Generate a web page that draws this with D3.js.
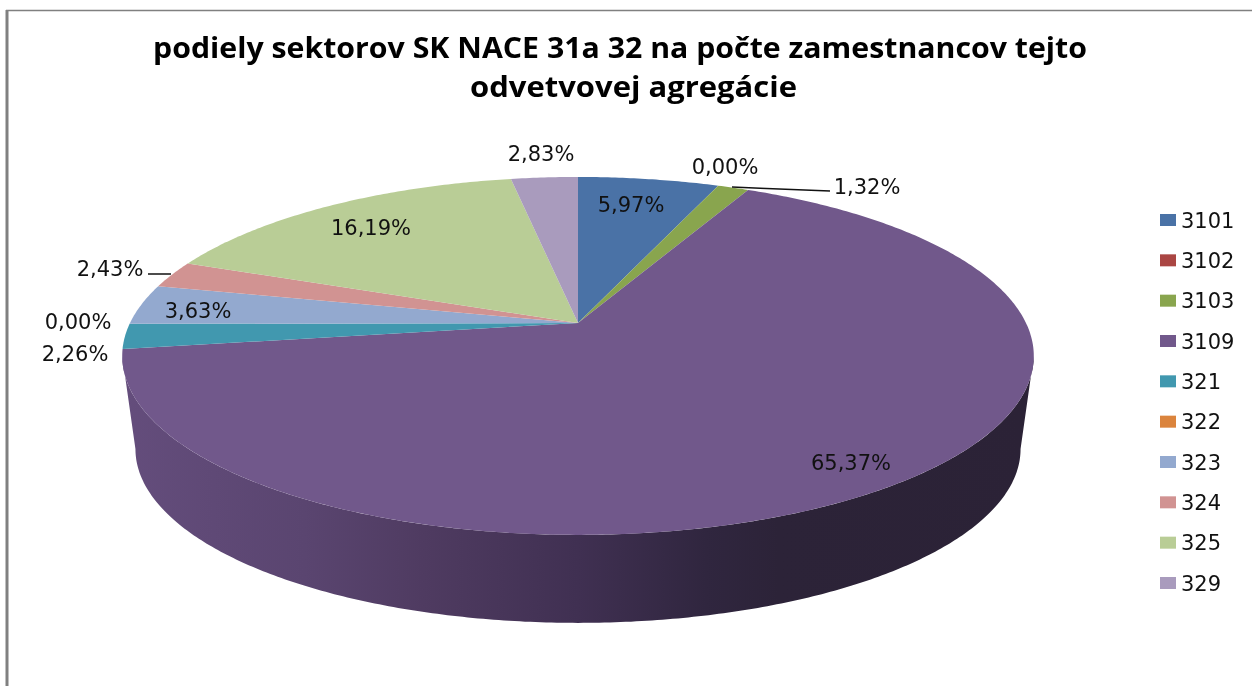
<!DOCTYPE html>
<html lang="sk"><head><meta charset="utf-8">
<script src="https://cdn.jsdelivr.net/npm/d3@7/dist/d3.min.js"></script>
<style>
html,body{margin:0;padding:0;background:#fff;overflow:hidden}
svg{display:block;filter:blur(0.45px)}
text{font-family:"DejaVu Sans",sans-serif;fill:#111}
</style></head><body>
<script>
const categories=["3101","3102","3103","3109","321","322","323","324","325","329"];
const shares=[5.97,0,1.32,65.37,2.26,0,3.63,2.43,16.19,2.83];
const colors=["#4a72a6","#aa4643","#89a54e","#71588b","#4198af","#db843d","#93a9cf","#d19392","#b9cd96","#a99bbd"];
const titleLines=["podiely sektorov SK NACE 31a 32 na počte zamestnancov tejto","odvetvovej agregácie"];
const labelSpots=[[631,204],[725,166],[867,186],[851,462],[75,353],[78,321],[198,310],[110,268],[371,227],[541,153]];
const leaderLines=[[[732,187],[830,191]],[[148,274],[171,274]]];

const W=1252,H=686;
const svg=d3.select("body").append("svg").attr("width",W).attr("height",H);
const fmt=v=>v.toFixed(2).replace(".",",")+"%";

// frame
svg.append("line").attr("x1",7).attr("x2",7).attr("y1",10).attr("y2",H).attr("stroke","#808080").attr("stroke-width",3);
svg.append("line").attr("x1",6).attr("x2",W).attr("y1",10.5).attr("y2",10.5).attr("stroke","#808080").attr("stroke-width",1.5);

// perspective disc
const cx=578,topY=323,A=448,B=172.9,k=0.184;
const project=(theta,a=A,b=B,y0=topY)=>{
  const X=Math.sin(theta),Y=-Math.cos(theta),w=1-k*Y;
  return [cx+a*X/w,y0+b*Y/w];
};
const botA=435,botB=168,botY=417;
const line=d3.line();
const samples=(a0,a1)=>{
  const n=Math.max(2,Math.ceil(Math.abs(a1-a0)/0.01));
  return d3.range(n+1).map(i=>a0+(a1-a0)*i/n);
};

// side wall
const grad=svg.append("defs").append("linearGradient").attr("id","side")
  .attr("gradientUnits","userSpaceOnUse").attr("x1",122).attr("x2",1034).attr("y1",0).attr("y2",0);
[[0,"#644d7c"],[0.2,"#5a4570"],[0.33,"#4f3b61"],[0.5,"#403052"],[0.64,"#30263f"],[0.72,"#2c2338"],[1,"#2b2236"]]
  .forEach(([o,c])=>grad.append("stop").attr("offset",o).attr("stop-color",c));
const tL=Math.acos(-k),tR=2*Math.PI-tL;
const wall=[...samples(tL,tR).map(t=>project(t)),...samples(tR,tL).map(t=>project(t,botA,botB,botY))];
svg.append("path").attr("d",line(wall)+"Z").attr("fill","url(#side)");

// top surface
const pie=d3.pie().sort(null).value(d=>d)(shares);
svg.append("g").selectAll("path").data(pie).join("path")
  .attr("d",d=>line([[cx,topY],...samples(d.startAngle,d.endAngle).map(t=>project(t))])+"Z")
  .attr("fill",(d,i)=>colors[i]);

// leader lines
svg.append("g").selectAll("path").data(leaderLines).join("path")
  .attr("d",d=>line(d)).attr("stroke","#111").attr("stroke-width",1.5).attr("fill","none");

// value labels
svg.append("g").selectAll("text").data(shares).join("text")
  .attr("x",(d,i)=>labelSpots[i][0]).attr("y",(d,i)=>labelSpots[i][1]+7.5)
  .attr("text-anchor","middle").attr("font-size",21).text(fmt);

// title
const title=svg.append("g");
title.append("text").attr("x",153).attr("y",58).attr("textLength",934).attr("lengthAdjust","spacingAndGlyphs")
  .style("font-family","'Open Sans',sans-serif").attr("font-weight",700).attr("font-size",29).style("fill","#000").text(titleLines[0]);
title.append("text").attr("x",470).attr("y",97).attr("textLength",327).attr("lengthAdjust","spacingAndGlyphs")
  .style("font-family","'Open Sans',sans-serif").attr("font-weight",700).attr("font-size",29).style("fill","#000").text(titleLines[1]);

// legend
const ly=d3.scalePoint().domain(categories).range([220,583]);
const leg=svg.append("g").selectAll("g").data(categories).join("g").attr("transform",d=>`translate(0,${ly(d)})`);
leg.append("rect").attr("x",1160).attr("y",-6).attr("width",16).attr("height",12).attr("fill",(d,i)=>colors[i]);
leg.append("text").attr("x",1181).attr("y",7.5).attr("font-size",21).text(d=>d);
</script></body></html>
